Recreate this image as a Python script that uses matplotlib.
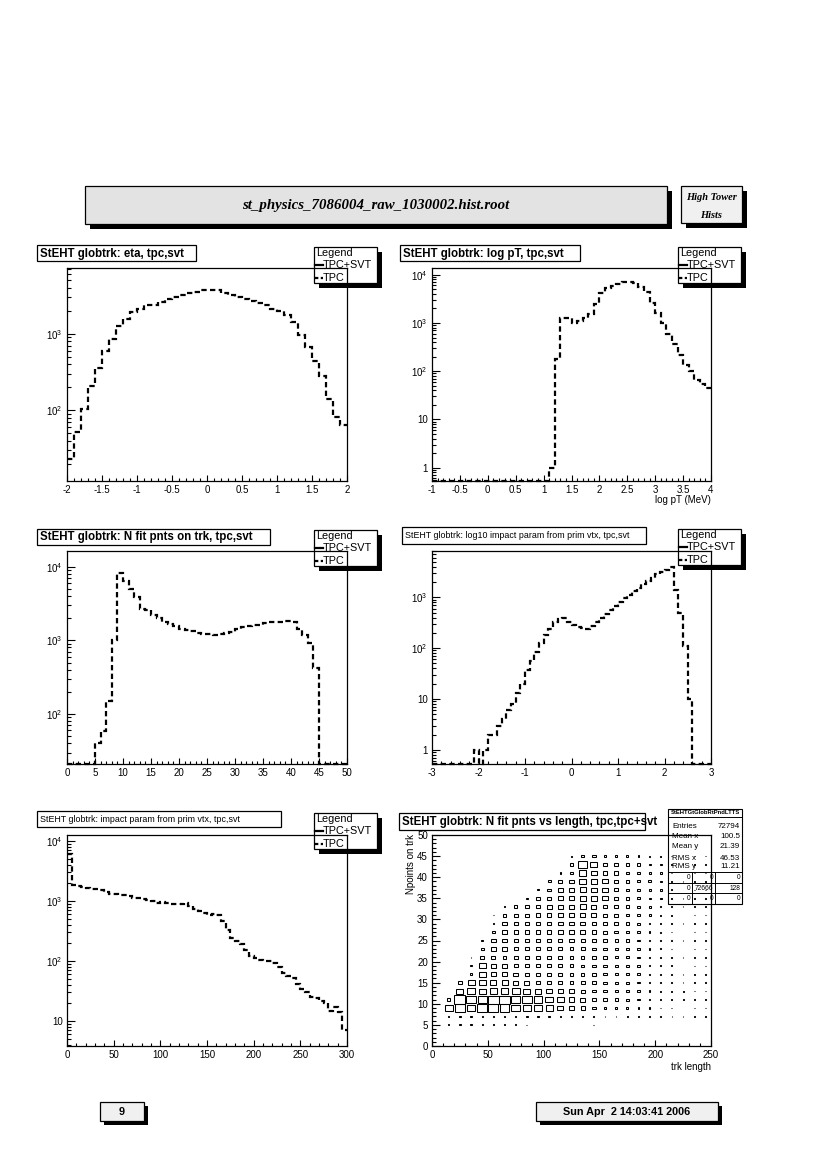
import numpy as np
import matplotlib
matplotlib.use("Agg")
import matplotlib.pyplot as plt
from matplotlib.patches import Rectangle
from matplotlib.lines import Line2D
from matplotlib.ticker import MultipleLocator, AutoMinorLocator, LogLocator, FuncFormatter, NullFormatter

plt.rcParams['font.family'] = ['Liberation Sans', 'DejaVu Sans']
plt.rcParams['mathtext.fontset'] = 'custom'
plt.rcParams['mathtext.rm'] = 'Liberation Sans'

# ---- data ----
file_title = "st_physics_7086004_raw_1030002.hist.root"
side_title = ["High Tower", "Hists"]
page_number = "9"
date_text = "Sun Apr  2 14:03:41 2006"
legend_entries = ["TPC+SVT", "TPC"]

# eta, 40 bins -2..2
eta_edges = np.linspace(-2, 2, 41)
eta_tpc = [23, 52, 105, 207, 360, 590, 860, 1250, 1540, 1920,
           2080, 2360, 2400, 2590, 2830, 3000, 3160, 3390, 3500, 3680,
           3680, 3680, 3430, 3200, 3000, 2800, 2640, 2500, 2400, 2120,
           1970, 1740, 1420, 970, 670, 440, 280, 142, 82, 64]

# log pT, 50 bins -1..4
logpt_edges = np.linspace(-1, 4, 51)
logpt_tpc = [0] * 21 + [1, 183, 1280, 1280, 1000, 1090, 1250, 1520, 2470, 4100,
                        5360, 5800, 6400, 6960, 7100, 6800, 5650, 4300, 2640, 1580,
                        980, 590, 365, 215, 133, 100, 67, 54, 44]

# N fit points, 50 bins 0..50
nfit_edges = np.linspace(0, 50, 51)
nfit_tpc = [0, 0, 0, 0, 0, 41, 58, 152, 1000, 8100,
            6300, 5000, 3840, 2700, 2570, 2200, 2000, 1800, 1650, 1570,
            1440, 1400, 1330, 1260, 1230, 1220, 1200, 1220, 1240, 1280,
            1440, 1540, 1570, 1600, 1630, 1700, 1750, 1800, 1800, 1850,
            1750, 1440, 1180, 920, 420, 0, 0, 0, 0, 0]

# log10 impact parameter, 60 bins -3..3
logimp_edges = np.linspace(-3, 3, 61)
logimp_tpc = [0] * 9 + [1, 0, 1, 2, 2, 3, 4, 6, 8, 13,
                        20, 37, 55, 85, 125, 180, 240, 320, 380, 400,
                        330, 280, 265, 250, 240, 270, 330, 400, 470, 560,
                        680, 800, 950, 1100, 1350, 1550, 1800, 2100, 2400, 2800,
                        3200, 3500, 4000, 1400, 500, 110, 10] + [0] * 4

# impact parameter, 60 bins 0..300
imp_edges = np.linspace(0, 300, 61)
imp_tpc = [6000, 1860, 1750, 1700, 1640, 1600, 1580, 1530, 1400, 1300,
           1320, 1250, 1280, 1200, 1130, 1130, 1090, 1050, 1000, 940,
           960, 930, 880, 880, 900, 930, 820, 730, 670, 630,
           590, 600, 590, 460, 330, 240, 215, 190, 155, 120,
           113, 106, 100, 100, 94, 80, 63, 56, 52, 41,
           34, 30, 25, 24, 22, 20, 15, 17, 14, 7]

# N fit pnts vs track length (box plot), rows npts = 5,7,..,45 ; cols length = 15,25,..,245
len_centers = [15, 25, 35, 45, 55, 65, 75, 85, 95, 105, 115, 125,
               135, 145, 155, 165, 175, 185, 195, 205, 215, 225, 235, 245]
npts_centers = [5, 7, 9, 11, 13, 15, 17, 19, 21, 23, 25, 27, 29, 31, 33, 35, 37, 39, 41, 43, 45]
nfit_len = [
    [4, 4, 4, 4, 4, 4, 4, 3, 0, 0, 0, 0, 0, 3, 0, 0, 0, 0, 0, 0, 0, 0, 0, 0],
    [4, 4, 4, 4, 4, 4, 4, 4, 4, 4, 4, 3, 3, 2, 2, 2, 2, 2, 2, 2, 2, 2, 2, 2],
    [22, 30, 25, 30, 28, 27, 25, 25, 22, 20, 17, 13, 12, 10, 8, 7, 6, 5, 4, 3, 3, 2, 2, 2],
    [10, 32, 27, 27, 30, 30, 27, 27, 25, 22, 20, 17, 15, 13, 10, 9, 7, 6, 5, 4, 3, 3, 2, 2],
    [0, 20, 22, 20, 22, 22, 22, 20, 18, 17, 15, 13, 12, 10, 9, 8, 7, 6, 5, 4, 3, 3, 2, 2],
    [0, 10, 20, 20, 17, 17, 15, 15, 13, 12, 12, 11, 11, 10, 9, 8, 7, 6, 5, 4, 3, 2, 2, 2],
    [0, 0, 8, 20, 15, 15, 13, 13, 12, 11, 11, 11, 10, 10, 9, 8, 7, 6, 5, 4, 3, 2, 2, 2],
    [0, 0, 5, 20, 15, 13, 12, 12, 11, 11, 11, 11, 10, 10, 9, 8, 7, 6, 5, 4, 3, 2, 2, 2],
    [0, 0, 2, 12, 12, 11, 11, 11, 11, 11, 11, 10, 10, 10, 9, 8, 7, 6, 5, 4, 3, 2, 2, 2],
    [0, 0, 0, 8, 15, 12, 11, 11, 11, 11, 11, 11, 11, 10, 9, 8, 7, 6, 5, 4, 3, 2, 2, 2],
    [0, 0, 0, 5, 15, 12, 12, 12, 12, 12, 12, 12, 12, 11, 10, 9, 8, 7, 5, 4, 3, 2, 2, 2],
    [0, 0, 0, 0, 8, 12, 12, 12, 12, 12, 13, 13, 13, 12, 11, 10, 8, 7, 5, 4, 3, 2, 2, 2],
    [0, 0, 0, 0, 5, 12, 12, 12, 13, 13, 13, 14, 14, 13, 12, 10, 9, 7, 5, 4, 3, 2, 2, 2],
    [0, 0, 0, 0, 2, 11, 12, 12, 13, 13, 14, 14, 15, 14, 12, 11, 9, 8, 6, 4, 3, 2, 2, 2],
    [0, 0, 0, 0, 0, 5, 10, 12, 13, 14, 14, 15, 17, 15, 13, 11, 10, 8, 6, 4, 3, 2, 2, 2],
    [0, 0, 0, 0, 0, 0, 0, 5, 10, 12, 14, 15, 18, 17, 15, 12, 10, 8, 6, 5, 3, 2, 2, 2],
    [0, 0, 0, 0, 0, 0, 0, 0, 4, 10, 13, 15, 18, 17, 15, 12, 10, 8, 6, 5, 3, 2, 2, 2],
    [0, 0, 0, 0, 0, 0, 0, 0, 0, 8, 12, 14, 20, 18, 15, 12, 10, 8, 7, 5, 3, 2, 2, 2],
    [0, 0, 0, 0, 0, 0, 0, 0, 0, 0, 4, 10, 22, 18, 14, 12, 10, 8, 6, 5, 3, 2, 2, 2],
    [0, 0, 0, 0, 0, 0, 0, 0, 0, 0, 0, 8, 25, 20, 12, 10, 9, 8, 6, 5, 3, 2, 2, 2],
    [0, 0, 0, 0, 0, 0, 0, 0, 0, 0, 0, 4, 10, 10, 6, 5, 5, 5, 4, 4, 3, 2, 2, 2],
]
stats_title = "StEHTGtGlobRtPndLTTS"
stats_names = ["Entries", "Mean x", "Mean y", "RMS x", "RMS y"]
stats_values = ["72794", "100.5", "21.39", "46.53", "11.21"]
stats_table = [["0", "0", "0"], ["0", "72666", "128"], ["0", "0", "0"]]

# ---- page layout in pixels ----
W, H = 826, 1170
fig = plt.figure(figsize=(W / 100, H / 100), dpi=100)


def fx(x):
    return x / W


def fy(y):
    return 1 - y / H


def pave(x0, y0, x1, y1, fc='white', sh=5, lw=0.9, z=-2):
    if sh:
        fig.add_artist(Rectangle((fx(x0 + sh), fy(y1 + sh)), (x1 - x0) / W, (y1 - y0) / H,
                                 transform=fig.transFigure, fc='black', ec='none', zorder=z))
    fig.add_artist(Rectangle((fx(x0), fy(y1)), (x1 - x0) / W, (y1 - y0) / H,
                             transform=fig.transFigure, fc=fc, ec='black', lw=lw, zorder=z))


def ftext(x, y, s, **kw):
    kw.setdefault('zorder', -1)
    fig.text(fx(x), fy(y), s, **kw)


def fline(x0, y0, x1, y1, **kw):
    kw.setdefault('zorder', -1)
    fig.add_artist(Line2D([fx(x0), fx(x1)], [fy(y0), fy(y1)], transform=fig.transFigure, **kw))


DASH = (0, (2.4, 1.5))


def legend_box(x0, y0):
    x1, y1 = x0 + 63, y0 + 36
    pave(x0, y0, x1, y1, 'white', sh=5)
    ftext(x0 + 2, y0 + 6, 'Legend', fontsize=7.8, va='center', ha='left')
    fline(x0 + 1, y0 + 18, x0 + 9, y0 + 18, color='black', lw=1.6)
    ftext(x0 + 9, y0 + 18, legend_entries[0], fontsize=7.8, va='center', ha='left')
    fline(x0 + 1, y0 + 31, x0 + 9, y0 + 31, color='black', lw=1.6, ls=(0, (1.5, 1.1)))
    ftext(x0 + 9, y0 + 31, legend_entries[1], fontsize=7.8, va='center', ha='left')


def title_box(x0, y0, x1, y1, s, bold=True):
    pave(x0, y0, x1, y1, 'white', sh=0)
    ftext(x0 + 3, (y0 + y1) / 2 + 0.5, s, fontsize=8.3 if bold else 6.4,
          fontweight='bold' if bold else 'normal', va='center', ha='left')


def log_label(v, pos):
    e = int(round(np.log10(v)))
    if e == 0:
        return '1'
    if e == 1:
        return '10'
    return r'$\mathregular{10^{%d}}$' % e


def make_axes(x0, y0, x1, y1):
    ax = fig.add_axes([fx(x0), fy(y1), (x1 - x0) / W, (y1 - y0) / H])
    ax.set_facecolor('none')
    for s in ax.spines.values():
        s.set_linewidth(0.9)
    ax.tick_params(which='both', direction='in', top=False, right=False, labelsize=7, pad=3, width=0.8)
    ax.tick_params(axis='x', which='major', length=4.5)
    ax.tick_params(axis='x', which='minor', length=2.3)
    ax.tick_params(axis='y', which='major', length=5.5)
    ax.tick_params(axis='y', which='minor', length=2.8)
    return ax


def hist_panel(box, edges, vals, ylim, xmajor):
    ax = make_axes(*box)
    ax.set_yscale('log')
    ax.stairs(np.maximum(np.asarray(vals, float), ylim[0]), edges, baseline=None,
              color='black', lw=1.6, ls=DASH, clip_on=False)
    ax.set_xlim(edges[0], edges[-1])
    ax.set_ylim(*ylim)
    ax.xaxis.set_major_locator(MultipleLocator(xmajor))
    ax.xaxis.set_minor_locator(AutoMinorLocator(5))
    ax.xaxis.set_major_formatter(FuncFormatter(lambda v, p: '%g' % v if abs(v) > 1e-9 else '0'))
    ax.yaxis.set_major_locator(LogLocator(base=10))
    ax.yaxis.set_minor_locator(LogLocator(base=10, subs=np.arange(2, 10)))
    ax.yaxis.set_major_formatter(FuncFormatter(log_label))
    ax.yaxis.set_minor_formatter(NullFormatter())
    return ax


# ---- header ----
pave(85, 186, 667, 224, '#e3e3e3', sh=5)
ftext(376, 205, file_title, fontsize=10.7, family='Liberation Serif', fontweight='bold',
      style='italic', ha='center', va='center')
pave(681, 186, 742, 223, '#f0f0f0', sh=5)
ftext(711.5, 197, side_title[0], fontsize=7.5, family='Liberation Serif', fontweight='bold',
      style='italic', ha='center', va='center')
ftext(711.5, 215, side_title[1], fontsize=7.5, family='Liberation Serif', fontweight='bold',
      style='italic', ha='center', va='center')

# ---- panels ----
ax1 = hist_panel((67, 268, 347, 481), eta_edges, eta_tpc, (12, 7200), 0.5)
title_box(37, 245, 196, 261, 'StEHT globtrk: eta, tpc,svt')
legend_box(314, 247)

ax2 = hist_panel((432, 268, 711, 481), logpt_edges, logpt_tpc, (0.53, 13800), 0.5)
title_box(400, 245, 580, 261, 'StEHT globtrk: log pT, tpc,svt')
legend_box(678, 247)
ftext(711, 500, 'log pT (MeV)', fontsize=7, ha='right', va='center')

ax3 = hist_panel((67, 551, 347, 764), nfit_edges, nfit_tpc, (21, 16300), 5)
title_box(37, 529, 270, 545, 'StEHT globtrk: N fit pnts on trk, tpc,svt')
legend_box(314, 530)

ax4 = hist_panel((432, 551, 711, 764), logimp_edges, logimp_tpc, (0.53, 8100), 1)
title_box(402, 527, 646, 544, 'StEHT globtrk: log10 impact param from prim vtx, tpc,svt', bold=False)
legend_box(678, 529)

ax5 = hist_panel((67, 835, 347, 1046), imp_edges, imp_tpc, (3.85, 12600), 50)
title_box(37, 811, 281, 827, 'StEHT globtrk: impact param from prim vtx, tpc,svt', bold=False)
legend_box(314, 813)

# box plot panel
ax6 = make_axes(432, 835, 711, 1046)
counts = np.array(nfit_len, float)
cmax = counts.max()
for i, yc in enumerate(npts_centers):
    for j, xc in enumerate(len_centers):
        c = counts[i, j]
        if c <= 0:
            continue
        f = c / cmax
        ax6.add_patch(Rectangle((xc - 5 * f, yc - f), 10 * f, 2 * f, fill=False,
                                ec='black', lw=0.75))
ax6.set_xlim(0, 250)
ax6.set_ylim(0, 50)
ax6.xaxis.set_major_locator(MultipleLocator(50))
ax6.xaxis.set_minor_locator(AutoMinorLocator(5))
ax6.yaxis.set_major_locator(MultipleLocator(5))
ax6.yaxis.set_minor_locator(AutoMinorLocator(5))
title_box(399, 813, 645, 830, 'StEHT globtrk: N fit pnts vs length, tpc,tpc+svt')
ftext(711, 1067, 'trk length', fontsize=7, ha='right', va='center')
ftext(411, 834, 'Npoints on trk', fontsize=7, rotation=90, ha='center', va='top')

# stats box (transparent, under the frame)
sx0, sy0, sx1, sy1 = 668, 809, 742, 904
fig.add_artist(Rectangle((fx(sx0), fy(sy1)), (sx1 - sx0) / W, (sy1 - sy0) / H,
                         transform=fig.transFigure, fill=False, ec='black', lw=0.8, zorder=-1))
fline(sx0, 817, sx1, 817, color='black', lw=0.7)
ftext((sx0 + sx1) / 2, 813, stats_title, fontsize=4.2, fontweight='bold', ha='center', va='center')
for k, (nm, vl) in enumerate(zip(stats_names, stats_values)):
    yy = [826, 837, 846, 858, 867][k]
    ftext(sx0 + 4, yy, nm, fontsize=5.8, ha='left', va='center')
    ftext(sx1 - 2, yy, vl, fontsize=5.8, ha='right', va='center')
for yy in [872, 883, 893]:
    fline(sx0, yy, sx1, yy, color='black', lw=0.7)
for xx in [692, 715]:
    fline(xx, 872, xx, sy1, color='black', lw=0.7)
col_right = [690, 713, 740]
for r, row in enumerate(stats_table):
    yy = [877.5, 888, 898.5][r]
    for cidx, val in enumerate(row):
        ftext(col_right[cidx], yy, val, fontsize=4.8, ha='right', va='center')

# ---- footer ----
pave(100, 1102, 144, 1121, '#f0f0f0', sh=4)
ftext(122, 1112, page_number, fontsize=7.8, fontweight='bold', ha='center', va='center')
pave(536, 1102, 718, 1121, '#f0f0f0', sh=4)
ftext(627, 1112, date_text, fontsize=7.8, fontweight='bold', ha='center', va='center')

fig.savefig('out.png', dpi=100)
plt.close(fig)
